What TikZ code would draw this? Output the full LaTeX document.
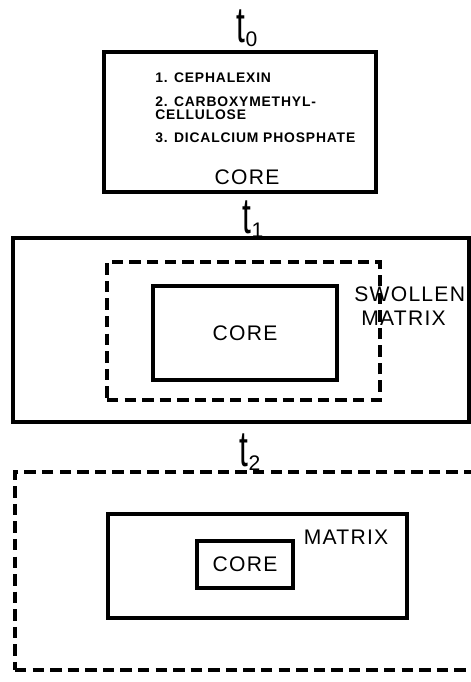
\documentclass[tikz,border=0pt]{standalone}
\usepackage{fontspec}
\setsansfont{Liberation Sans}[LetterSpace=6]
\newfontfamily\listfont{Liberation Sans}[LetterSpace=6]
\usetikzlibrary{positioning}
\newcommand{\tmark}[1]{\scalebox{1}[1.6]{\fontsize{18}{18}\selectfont t}\raisebox{-0.4ex}{\fontsize{12}{12}\selectfont #1}}
\tikzset{
  every picture/.style={font=\sffamily\fontsize{12}{14}\selectfont},
  shell/.style={draw, line width=2pt, inner sep=0pt},
  swell/.style={draw, line width=1.8pt, inner sep=0pt, dash pattern=on 6.5pt off 3.5pt},
  stage/.style={inner sep=0pt},
  item/.style={font=\listfont\bfseries\fontsize{7.9}{7.6}\selectfont, anchor=west, align=left, inner sep=0pt},
  lbl/.style={inner sep=0pt, align=left},
}

\begin{document}
\begin{tikzpicture}
  \useasboundingbox (0,0) rectangle (9.4,13.64);
  % t0: tablet core
  \node[stage] (t0) at (4.94,13.08) {\tmark{0}};
  \node[shell, minimum width=5.44cm, minimum height=2.80cm] (tab) at (4.80,11.20) {};
  \node[item] (ing1) at (3.10,12.08) {1. CEPHALEXIN};
  \node[item] (ing2) at (3.10,11.47) {2. CARBOXYMETHYL-\\CELLULOSE};
  \node[item] (ing3) at (3.10,10.88) {3. DICALCIUM PHOSPHATE};
  \node[lbl] (core0) at (4.94,10.10) {CORE};
  % t1: swollen matrix round the core
  \node[stage] (t1) at (5.06,9.26) {\tmark{1}};
  \node[shell, minimum width=9.12cm, minimum height=3.68cm] (gel1) at (4.82,7.04) {};
  \node[swell, minimum width=5.46cm, minimum height=2.76cm] (swl1) at (4.87,7.02) {};
  \node[shell, minimum width=3.68cm, minimum height=1.88cm] (core1) at (4.90,6.98) {CORE};
  \node[lbl, anchor=west] (swtxt) at (7.08,7.52) {SWOLLEN\\\hspace{0.14cm}MATRIX};
  % t2: eroded matrix
  \node[stage] (t2) at (5.00,4.60) {\tmark{2}};
  \node[swell, minimum width=9.30cm, minimum height=3.96cm] (gel2) at (4.95,2.22) {};
  \node[shell, minimum width=5.98cm, minimum height=2.08cm] (mat2) at (5.15,2.32) {};
  \node[shell, minimum width=1.92cm, minimum height=0.94cm] (core2) at (4.90,2.35) {CORE};
  \node[lbl] (mattxt) at (6.92,2.90) {MATRIX};
\end{tikzpicture}
\end{document}
